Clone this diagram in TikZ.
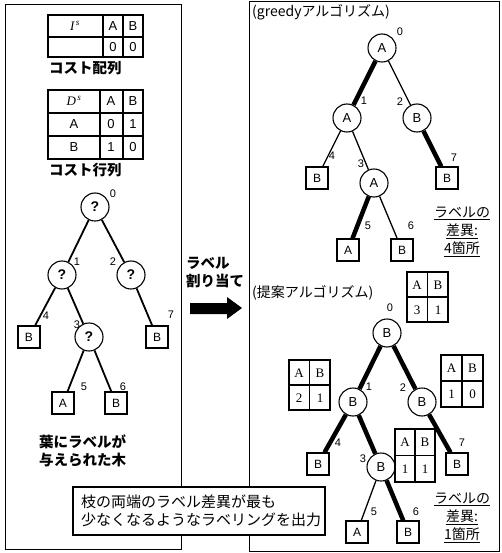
\documentclass[tikz,border=0pt]{standalone}
\usepackage{fontspec}
\setmainfont{Liberation Sans}
\newfontfamily\jp{Noto Sans CJK JP}
\newfontfamily\ser{Liberation Serif}
\begin{document}
\begin{tikzpicture}[x=1pt,y=-1pt,
  inner/.style={circle,draw,line width=1.1pt,minimum size=28pt,inner sep=0pt,fill=white,font=\fontsize{13}{13}\selectfont},
  leaf/.style={rectangle,draw,line width=1.1pt,minimum size=22pt,inner sep=0pt,fill=white,font=\fontsize{12}{12}\selectfont},
  num/.style={inner sep=0pt,font=\fontsize{11}{11}\selectfont},
  ledge/.style={line width=1.8pt},
  thin/.style={line width=1.3pt},
  heavy/.style={line width=4.5pt},
  jptxt/.style={inner sep=0pt,font=\jp\fontsize{14}{18}\selectfont,align=left},
  jpbold/.style={inner sep=0pt,font=\jp\bfseries\fontsize{14.5}{18}\selectfont,align=left},
  cell/.style={inner sep=0pt,font=\fontsize{13}{13}\selectfont},
  scell/.style={inner sep=0pt,font=\ser\fontsize{13}{13}\selectfont},
  tab/.style={line width=1.1pt}
]
\useasboundingbox (0,0) rectangle (501,553);
% panels
\draw[line width=1pt] (5,5) rectangle (181,549);
\draw[line width=1pt] (249,2) rectangle (499,551);

% ---- cost array I^s
\draw[tab] (48,15) rectangle (143,57);
\draw[tab] (103,15) -- (103,57) (123,15) -- (123,57) (48,37) -- (143,37);
\node[cell] (ih) at (75,26) {\ser\itshape I\textsuperscript{\,s}};
\node[cell] (ia) at (113,26) {A};
\node[cell] (ib) at (133,26) {B};
\node[cell] (i0a) at (113,47) {0};
\node[cell] (i0b) at (133,47) {0};
\node[jpbold,anchor=west] (carr) at (49,68) {コスト配列};

% ---- cost matrix D^s
\draw[tab] (48,90) rectangle (143,159);
\draw[tab] (100,90) -- (100,159) (123,90) -- (123,159) (48,113) -- (143,113) (48,136) -- (143,136);
\node[cell] (dh) at (74,101) {\ser\itshape D\textsuperscript{\,s}};
\node[cell] (da) at (111,101) {A};
\node[cell] (db) at (133,101) {B};
\node[cell] (dra) at (74,124) {A};
\node[cell] (drb) at (74,147) {B};
\node[cell] (d11) at (111,124) {0};
\node[cell] (d12) at (133,124) {1};
\node[cell] (d21) at (111,147) {1};
\node[cell] (d22) at (133,147) {0};
\node[jpbold,anchor=west] (cmat) at (49,170) {コスト行列};

% ---- left tree
\node[inner,font=\bfseries\fontsize{14}{14}\selectfont] (L0) at (95,207) {?};
\node[inner,font=\bfseries\fontsize{14}{14}\selectfont] (L1) at (62,275) {?};
\node[inner,font=\bfseries\fontsize{14}{14}\selectfont] (L2) at (131,275) {?};
\node[inner,font=\bfseries\fontsize{14}{14}\selectfont] (L3) at (89,337) {?};
\node[leaf] (L4) at (29,337) {B};
\node[leaf] (L7) at (157,337) {B};
\node[leaf] (L5) at (63,403) {A};
\node[leaf] (L6) at (116,403) {B};
\draw[ledge] (L0) -- (L1);
\draw[ledge] (L0) -- (L2);
\draw[ledge] (L1) -- (L4);
\draw[ledge] (L1) -- (L3);
\draw[ledge] (L2) -- (L7);
\draw[ledge] (L3) -- (L5);
\draw[ledge] (L3) -- (L6);
\node[num] (nl0) at (113,194) {0};
\node[num] (nl1) at (77,262) {1};
\node[num] (nl2) at (113,262) {2};
\node[num] (nl4) at (46,316) {4};
\node[num] (nl3) at (77,325) {3};
\node[num] (nl7) at (171,315) {7};
\node[num] (nl5) at (84,387) {5};
\node[num] (nl6) at (123,387) {6};
\node[jpbold,anchor=west] (leaves) at (39,451) {葉にラベルが\\与えられた木};

% ---- arrow
\node[jpbold,anchor=west] (assign) at (186,273) {ラベル\\割り当て};
\fill (190,303) -- (227,303) -- (227,297) -- (242,308) -- (227,319) -- (227,314) -- (190,314) -- cycle;

% ---- greedy tree
\node[jptxt,anchor=west] (greedy) at (252,12) {(greedyアルゴリズム)};
\node[inner] (G0) at (382,48) {A};
\node[inner] (G1) at (347,118) {A};
\node[inner] (G2) at (417,118) {B};
\node[inner] (G3) at (374,183) {A};
\node[leaf] (G4) at (317,178) {B};
\node[leaf] (G7) at (447,178) {B};
\node[leaf] (G5) at (348,250) {A};
\node[leaf] (G6) at (402,250) {B};
\draw[heavy] (G0) -- (G1);
\draw[thin] (G0) -- (G2);
\draw[thin] (G1) -- (G4);
\draw[thin] (G1) -- (G3);
\draw[heavy] (G2) -- (G7);
\draw[heavy] (G3) -- (G5);
\draw[thin] (G3) -- (G6);
\node[num] (ng0) at (400,32) {0};
\node[num] (ng1) at (364,101) {1};
\node[num] (ng2) at (400,102) {2};
\node[num] (ng4) at (332,156) {4};
\node[num] (ng3) at (361,164) {3};
\node[num] (ng7) at (454,158) {7};
\node[num] (ng5) at (368,226) {5};
\node[num] (ng6) at (411,226) {6};
\node[jptxt,align=center] (diff1) at (462,232) {\underline{ラベルの}\\\underline{差異:}\\\underline{4箇所}};

% ---- proposed tree
\node[jptxt,anchor=west] (prop) at (252,293) {(提案アルゴリズム)};
\node[inner] (P0) at (387,333) {B};
\node[inner] (P1) at (353,402) {B};
\node[inner] (P2) at (422,402) {B};
\node[inner] (P3) at (381,467) {B};
\node[leaf] (P4) at (318,464) {B};
\node[leaf] (P7) at (457,464) {B};
\node[leaf] (P5) at (357,532) {A};
\node[leaf] (P6) at (408,532) {B};
\draw[heavy] (P0) -- (P1);
\draw[heavy] (P0) -- (P2);
\draw[heavy] (P1) -- (P4);
\draw[heavy] (P1) -- (P3);
\draw[heavy] (P2) -- (P7);
\draw[thin] (P3) -- (P5);
\draw[heavy] (P3) -- (P6);
\node[num] (np0) at (390,308) {0};
\node[num] (np1) at (369,387) {1};
\node[num] (np2) at (403,388) {2};
\node[num] (np4) at (338,443) {4};
\node[num] (np3) at (363,459) {3};
\node[num] (np7) at (462,443) {7};
\node[num] (np5) at (374,512) {5};
\node[num] (np6) at (416,512) {6};
\node[jptxt,align=center] (diff2) at (462,518) {\underline{ラベルの}\\\underline{差異:}\\\underline{1箇所}};

% ---- 2x2 tables
\draw[tab,fill=white] (407,272) rectangle (448,322);
\draw[tab] (427.5,272) -- (427.5,322) (407,297) -- (448,297);
\node[scell] (t0a) at (417,285) {A};
\node[scell] (t0b) at (438,285) {B};
\node[scell] (t0x) at (417,310) {3};
\node[scell] (t0y) at (438,310) {1};

\draw[tab,fill=white] (289,360) rectangle (330,410);
\draw[tab] (309.5,360) -- (309.5,410) (289,385) -- (330,385);
\node[scell] (t1a) at (299,373) {A};
\node[scell] (t1b) at (320,373) {B};
\node[scell] (t1x) at (299,398) {2};
\node[scell] (t1y) at (320,398) {1};

\draw[tab,fill=white] (441,355) rectangle (483,407);
\draw[tab] (462,355) -- (462,407) (441,381) -- (483,381);
\node[scell] (t2a) at (451.5,368) {A};
\node[scell] (t2b) at (472.5,368) {B};
\node[scell] (t2x) at (451.5,394) {1};
\node[scell] (t2y) at (472.5,394) {0};

\draw[tab,fill=white] (395,429) rectangle (435,482);
\draw[tab] (415,429) -- (415,482) (395,455.5) -- (435,455.5);
\node[scell] (t3a) at (405,442) {A};
\node[scell] (t3b) at (425,442) {B};
\node[scell] (t3x) at (405,469) {1};
\node[scell] (t3y) at (425,469) {1};

% ---- bottom note
\node[draw,line width=1.1pt,fill=white,minimum width=252pt,minimum height=48pt,inner sep=0pt] (note) at (199,511) {};
\node[jptxt,anchor=west,font=\jp\fontsize{15}{18.5}\selectfont] (notetxt) at (81,511) {枝の両端のラベル差異が最も\\少なくなるようなラベリングを出力};
\end{tikzpicture}
\end{document}
